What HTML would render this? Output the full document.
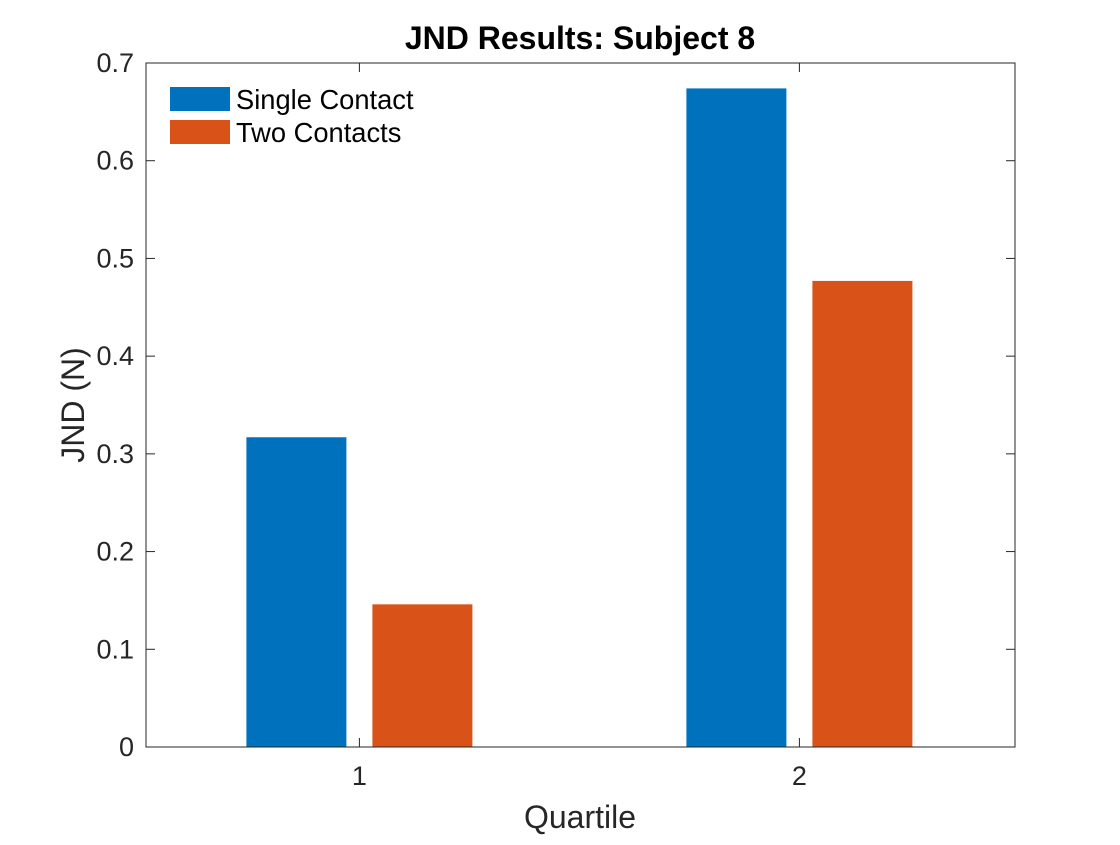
<!DOCTYPE html>
<html><head><meta charset="utf-8"><style>
html,body{margin:0;padding:0;background:#fff;}
svg text{font-family:"Liberation Sans",Arial,sans-serif;fill:#262626;}
</style></head><body>
<svg id="chart" width="1120" height="840" viewBox="0 0 1120 840" xmlns="http://www.w3.org/2000/svg">
<rect x="0" y="0" width="1120" height="840" fill="#fff"/>
<g id="plot"></g>
</svg>
<script>
const categories = ["1","2"];
const seriesNames = ["Single Contact","Two Contacts"];
const singleContact = [0.317, 0.674];
const twoContacts = [0.146, 0.477];
const yTicks = [0,0.1,0.2,0.3,0.4,0.5,0.6,0.7];
const yTickLabels = ["0","0.1","0.2","0.3","0.4","0.5","0.6","0.7"];

const L=146,R=1015,T=63,B=747;
const colors=["#0072BD","#D95319"];
const NS="http://www.w3.org/2000/svg";
const g=document.getElementById('plot');
function y(v){return B-(v/0.7)*(B-T);}
function x(i){return 146+((i+1)-0.515)*440;}
function mk(tag,attrs,parent){const e=document.createElementNS(NS,tag);for(const k in attrs)e.setAttribute(k,attrs[k]);(parent||g).appendChild(e);return e;}

const series=[singleContact,twoContacts];
series.forEach((s,si)=>{
  s.forEach((v,i)=>{
    const cx=x(i)+(si===0?-63:63);
    const r=mk('rect',{x:cx-50,y:y(v),width:100,height:B-y(v),fill:colors[si]});
    
    
  });
});
const box=mk('rect',{x:L,y:T,width:R-L,height:B-T,fill:'none',stroke:'#262626','stroke-width':1});


yTicks.forEach((v,i)=>{
  mk('line',{x1:L,x2:L+9,y1:y(v),y2:y(v),stroke:'#262626'});
  mk('line',{x1:R,x2:R-9,y1:y(v),y2:y(v),stroke:'#262626'});
  const t=mk('text',{x:L-12,y:y(v)+9,'text-anchor':'end','font-size':27});
  t.textContent=yTickLabels[i];
  
  
});
categories.forEach((c,i)=>{
  mk('line',{x1:x(i),x2:x(i),y1:B,y2:B-9,stroke:'#262626'});
  mk('line',{x1:x(i),x2:x(i),y1:T,y2:T+9,stroke:'#262626'});
  const t=mk('text',{x:x(i),y:B+38,'text-anchor':'middle','font-size':27});
  t.textContent=c;
  
  
});
let t=mk('text',{x:580,y:49,'text-anchor':'middle','font-size':32,'font-weight':'bold',style:'fill:#000'});
t.textContent='JND Results: Subject 8';


t=mk('text',{x:580,y:828,'text-anchor':'middle','font-size':32});
t.textContent='Quartile';


t=mk('text',{x:0,y:0,'text-anchor':'middle','font-size':32,transform:'translate(84,405) rotate(-90)'});
t.textContent='JND (N)';


seriesNames.forEach((n,i)=>{
  const gy=87+i*33;
  const sw=mk('rect',{x:170,y:gy,width:60,height:24,fill:colors[i]});
  
  
  const lt=mk('text',{x:236,y:gy+22,'font-size':27.3,style:'fill:#000'});
  lt.textContent=n;
  
  
});
</script>
</body></html>
